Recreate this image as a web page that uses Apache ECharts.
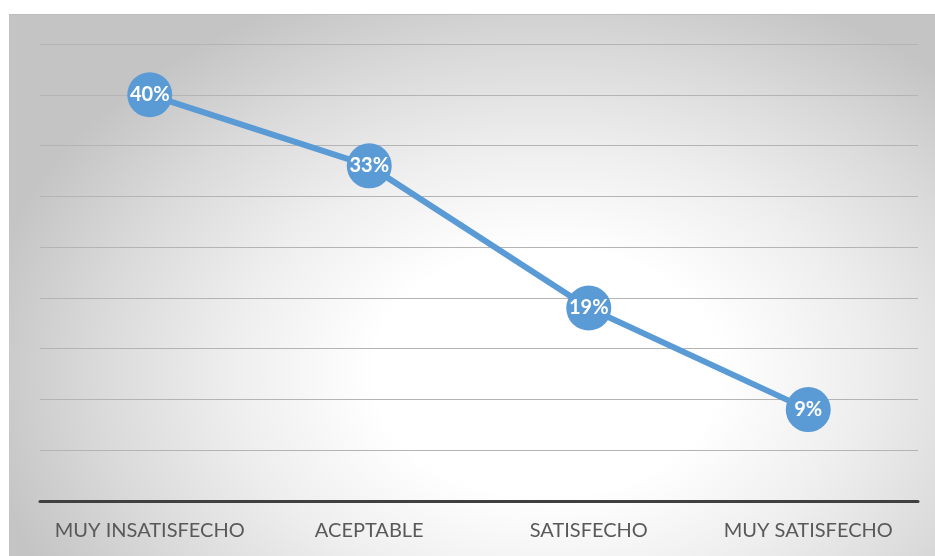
<!DOCTYPE html>
<html>
<head>
<meta charset="utf-8">
<script src="https://cdn.jsdelivr.net/npm/echarts@6/dist/echarts.min.js"></script>
<style>
  html, body { margin: 0; padding: 0; background: #ffffff; width: 935px; height: 556px; overflow: hidden; }
  #frame {
    position: absolute; left: 9px; top: 14px; width: 926px; height: 542px;
    background: radial-gradient(ellipse 62% 76% at 58% 66%, #ffffff 0%, #ffffff 30%, #eeeeee 55%, #dadada 78%, #c4c4c4 100%);
    border-top: 1px solid #bdbdbd;
    box-sizing: border-box;
  }
  #chart { position: absolute; left: -9px; top: -15px; width: 935px; height: 556px; }
</style>
</head>
<body>
<div id="frame"><div id="chart"></div></div>
<script>
// Satisfaction levels and their share of responses (%)
const categories = ['MUY INSATISFECHO', 'ACEPTABLE', 'SATISFECHO', 'MUY SATISFECHO'];
const shares = [40, 33, 19, 9];
// Value axis range and step
const axisMax = 45;
const axisStep = 5;

const chart = echarts.init(document.getElementById('chart'), null, { renderer: 'canvas' });
chart.setOption({
  backgroundColor: 'transparent',
  animation: false,
  grid: { left: 40, right: 17, top: 44, bottom: 55 },
  xAxis: {
    type: 'category',
    data: categories,
    boundaryGap: true,
    axisLine: { show: true, lineStyle: { color: '#404040', width: 3 } },
    axisTick: { show: false },
    axisLabel: {
      interval: 0,
      color: '#595959',
      fontFamily: 'Lato',
      fontSize: 20,
      margin: 20
    }
  },
  yAxis: {
    type: 'value',
    min: 0,
    max: axisMax,
    interval: axisStep,
    axisLine: { show: false },
    axisTick: { show: false },
    axisLabel: { show: false },
    splitLine: { show: true, lineStyle: { color: '#b4b4b4', width: 1 } }
  },
  series: [{
    type: 'line',
    data: shares,
    lineStyle: { color: '#5B9BD5', width: 6 },
    itemStyle: { color: '#5B9BD5' },
    symbol: 'circle',
    symbolSize: 45,
    label: {
      show: true,
      position: 'inside',
      formatter: p => p.value + '%',
      color: '#ffffff',
      fontFamily: 'Lato',
      fontWeight: 'bold',
      fontSize: 20
    }
  }]
});
</script>
</body>
</html>
